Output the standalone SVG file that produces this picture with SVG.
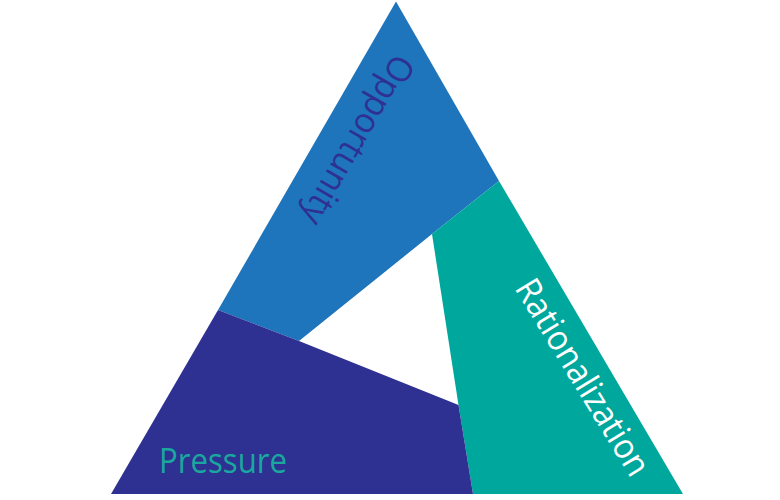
<svg xmlns="http://www.w3.org/2000/svg" width="780" height="500" viewBox="0 0 780 500">
  <style>
    .lbl { font-family: "Open Sans", "Liberation Sans", sans-serif; font-size: 35px; }
  </style>
  <rect width="780" height="500" fill="#ffffff"/>
  <g id="opportunity">
    <polygon points="396,1.5 499,181 432,234 299,341 218,310" fill="#1f75bc"/>
    <text class="lbl" fill="#2e3192" transform="translate(395,52) rotate(120)" x="0" y="0" textLength="190" lengthAdjust="spacingAndGlyphs">Opportunity</text>
  </g>
  <g id="rationalization">
    <polygon points="499,181 683,494 473,494 458.5,405 432,234" fill="#00a79d"/>
    <text class="lbl" fill="#ffffff" transform="translate(514,288) rotate(58.5)" x="0" y="0" textLength="224" lengthAdjust="spacingAndGlyphs">Rationalization</text>
  </g>
  <g id="pressure">
    <polygon points="218,310 299,341 458.5,405 473,494 111,494" fill="#2e3192"/>
    <text class="lbl" fill="#1aa89e" x="159" y="473" textLength="128" lengthAdjust="spacingAndGlyphs">Pressure</text>
  </g>
  <g id="connectors"></g>
</svg>
